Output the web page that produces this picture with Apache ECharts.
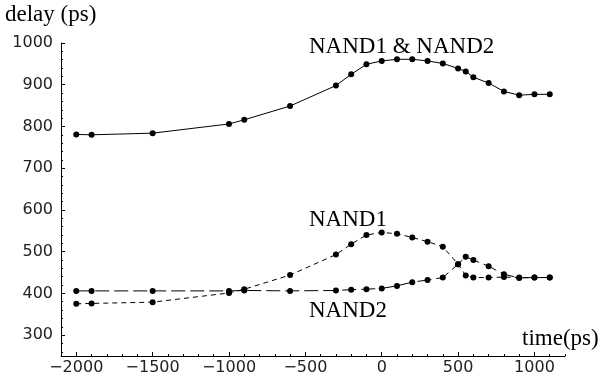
<!DOCTYPE html>
<html>
<head>
<meta charset="utf-8">
<script src="https://cdn.jsdelivr.net/npm/echarts@6/dist/echarts.min.js"></script>
<style>
html,body{margin:0;padding:0;background:#fff;}
#c{width:605px;height:377px;}
</style>
</head>
<body>
<div id="c"></div>
<script>
// time (ps)
var times = [-2000,-1900,-1500,-1000,-900,-600,-300,-200,-100,0,100,200,300,400,500,550,600,700,800,900,1000,1100];
// delay (ps)
var bothDelay = [781,780,784,806,816,849,898,925,949,957,961,961,957,951,939,932,918,904,884,875,877,877];
var nand1Delay = [375,376,379,401,410,444,493,518,540,546,543,534,524,512,470,443,438,438,439,438,438,438];
var nand2Delay = [406,406,406,406,407,406,407,409,410,412,418,427,432,438,470,488,480,465,446,437,438,438];

var xMajorTicks = [-2000,-1500,-1000,-500,0,500,1000];
var xMinorTicks = [-2000,-1900,-1800,-1700,-1600,-1500,-1400,-1300,-1200,-1100,-1000,-900,-800,-700,-600,-500,-400,-300,-200,-100,0,100,200,300,400,500,600,700,800,900,1000,1100,1200];
var yMajorTicks = [300,400,500,600,700,800,900,1000];
var yMinorTicks = [260,280,300,320,340,360,380,400,420,440,460,480,500,520,540,560,580,600,620,640,660,680,700,720,740,760,780,800,820,840,860,880,900,920,940,960,980,1000];

function pairs(ys){ return times.map(function(t,i){ return [t, ys[i]]; }); }

var chart = echarts.init(document.getElementById('c'), null, {renderer:'canvas'});
var serif = 'Liberation Serif';
var sans = 'DejaVu Sans';

function axisBase(extra){
  var o = {
    type:'value',
    splitLine:{show:false},
    axisLine:{show:true, onZero:false, lineStyle:{color:'#000', width:1}}
  };
  for (var k in extra) o[k] = extra[k];
  return o;
}
function plain(v){ return v < 0 ? '\u2212' + String(-v) : String(v); }

chart.setOption({
  animation:false,
  backgroundColor:'#fff',
  grid:{left:61, right:40, top:43, bottom:21, containLabel:false},
  xAxis:[
    axisBase({min:-2100, max:1200, position:'bottom', offset:0,
      axisTick:{show:true, inside:true, length:4, customValues:xMajorTicks, lineStyle:{color:'#000'}},
      axisLabel:{show:true, customValues:xMajorTicks, margin:4, color:'#222', fontFamily:sans, fontSize:16,
        align:'center', verticalAlign:'top', formatter:plain}
    }),
    axisBase({min:-2100, max:1200, position:'bottom', offset:0,
      axisLine:{show:false, onZero:false},
      axisTick:{show:true, inside:true, length:2, customValues:xMinorTicks, lineStyle:{color:'#000'}},
      axisLabel:{show:false}
    })
  ],
  yAxis:[
    axisBase({min:250, max:1000, position:'left', offset:0,
      axisTick:{show:true, inside:true, length:4, customValues:yMajorTicks, lineStyle:{color:'#000'}},
      axisLabel:{show:true, customValues:yMajorTicks, margin:8, color:'#222', fontFamily:sans, fontSize:16,
        align:'right', verticalAlign:'middle', formatter:plain}
    }),
    axisBase({min:250, max:1000, position:'left', offset:0,
      axisLine:{show:false, onZero:false},
      axisTick:{show:true, inside:true, length:2, customValues:yMinorTicks, lineStyle:{color:'#000'}},
      axisLabel:{show:false}
    })
  ],
  series:[
    {name:'NAND1 & NAND2', type:'line', data:pairs(bothDelay), symbol:'circle', symbolSize:6,
      itemStyle:{color:'#000'}, lineStyle:{color:'#000', width:1}},
    {name:'NAND1', type:'line', data:pairs(nand1Delay), symbol:'circle', symbolSize:6,
      itemStyle:{color:'#000'}, lineStyle:{color:'#000', width:1, type:[5,4]}},
    {name:'NAND2', type:'line', data:pairs(nand2Delay), symbol:'circle', symbolSize:6,
      itemStyle:{color:'#000'}, lineStyle:{color:'#000', width:1, type:[14,5]}}
  ],
  graphic:[
    {type:'text', left:5, top:3, style:{text:'delay (ps)', fontFamily:serif, fontSize:23, fill:'#000'}},
    {type:'text', left:522, top:327, style:{text:'time(ps)', fontFamily:serif, fontSize:23, fill:'#000'}},
    {type:'text', left:309, top:35, style:{text:'NAND1 & NAND2', fontFamily:serif, fontSize:23, fill:'#000'}},
    {type:'text', left:309, top:208, style:{text:'NAND1', fontFamily:serif, fontSize:23, fill:'#000'}},
    {type:'text', left:309, top:299, style:{text:'NAND2', fontFamily:serif, fontSize:23, fill:'#000'}}
  ]
});
</script>
</body>
</html>
